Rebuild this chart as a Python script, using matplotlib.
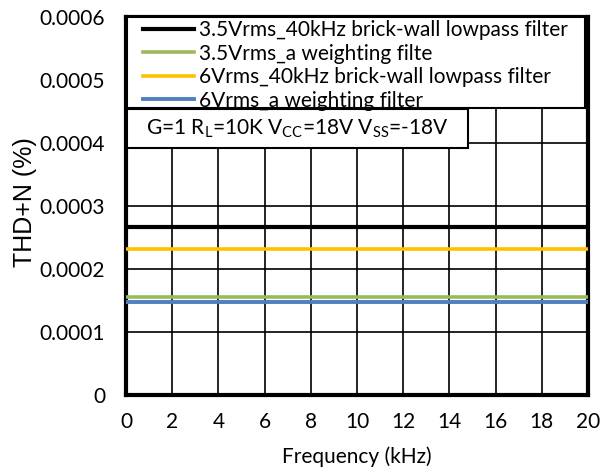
import matplotlib
matplotlib.use("Agg")
import matplotlib.pyplot as plt
from matplotlib.patches import Rectangle
from matplotlib.legend_handler import HandlerLine2D
from matplotlib.lines import Line2D

plt.rcParams['font.family'] = ['Lato', 'DejaVu Sans']
plt.rcParams['mathtext.fontset'] = 'custom'
plt.rcParams['mathtext.rm'] = 'Lato'
plt.rcParams['mathtext.it'] = 'Lato'
plt.rcParams['mathtext.default'] = 'rm'

# frequency range (kHz), flat THD+N levels (%)
freq = [0, 20]
series_names = ['3.5Vrms_40kHz brick-wall lowpass filter',
                '3.5Vrms_a weighting filte',
                '6Vrms_40kHz brick-wall lowpass filter',
                '6Vrms_a weighting filter']
thd_35_brick = [0.000267, 0.000267]
thd_35_aw = [0.000155, 0.000155]
thd_6_brick = [0.0002325, 0.0002325]
thd_6_aw = [0.000148, 0.000148]
colors = ['#000000', '#9BBB59', '#FFC000', '#4F81BD']

xticks = list(range(0, 21, 2))
yticks = [0, 0.0001, 0.0002, 0.0003, 0.0004, 0.0005, 0.0006]
ytick_labels = ['0', '0.0001', '0.0002', '0.0003', '0.0004', '0.0005', '0.0006']

fig = plt.figure(figsize=(6.07, 4.68), dpi=100)
ax = fig.add_axes([126 / 607, 1 - 395 / 468, 462 / 607, 378 / 468])

ax.plot(freq, thd_35_brick, color=colors[0], lw=3, label=series_names[0], zorder=3)
ax.plot(freq, thd_35_aw, color=colors[1], lw=2.6, label=series_names[1], zorder=3)
ax.plot(freq, thd_6_brick, color=colors[2], lw=2.6, label=series_names[2], zorder=3)
ax.plot(freq, thd_6_aw, color=colors[3], lw=2.8, label=series_names[3], zorder=3)

ax.set_xlim(0, 20)
ax.set_ylim(0, 0.0006)
ax.set_xticks(xticks)
ax.set_yticks(yticks)
ax.set_yticklabels(ytick_labels)
ax.tick_params(length=0, labelsize=15)
ax.tick_params(axis='y', pad=15)
ax.tick_params(axis='x', pad=12)
ax.grid(True, color='black', linewidth=1.2)
ax.set_axisbelow(True)
for s in ax.spines.values():
    s.set_linewidth(3)

ax.set_xlabel('Frequency (kHz)', fontsize=15)
ax.set_ylabel('THD+N (%)', fontsize=18, family='Liberation Sans')
ax.yaxis.set_label_coords(-0.193, 0.51)
ax.xaxis.set_label_coords(0.5, -0.135)

# legend frame drawn separately so it can be tighter than the text rows
ax.add_patch(Rectangle((0.002, 0.759), 0.9915, 0.241, transform=ax.transAxes,
                       facecolor='white', edgecolor='black', lw=1.5, zorder=4))
leg = ax.legend(loc='upper left', bbox_to_anchor=(0.0, 1.0, 0.995, 0), mode='expand',
                fontsize=15, frameon=False, handlelength=3.1,
                handletextpad=0.25, labelspacing=0.17, borderpad=0.15,
                borderaxespad=0,
                handler_map={Line2D: HandlerLine2D(xpad=0.65)})
leg.set_zorder(5)

ax.add_patch(Rectangle((0.003, 0.654), 0.737, 0.102, transform=ax.transAxes,
                       facecolor='white', edgecolor='black', lw=1.5, zorder=4))
ax.text(0.043, 0.703, 'G=1 R$_L$=10K V$_{CC}$=18V V$_{SS}$=-18V', transform=ax.transAxes,
        fontsize=15, va='center', ha='left', zorder=6)

fig.savefig('out.png', dpi=100)
